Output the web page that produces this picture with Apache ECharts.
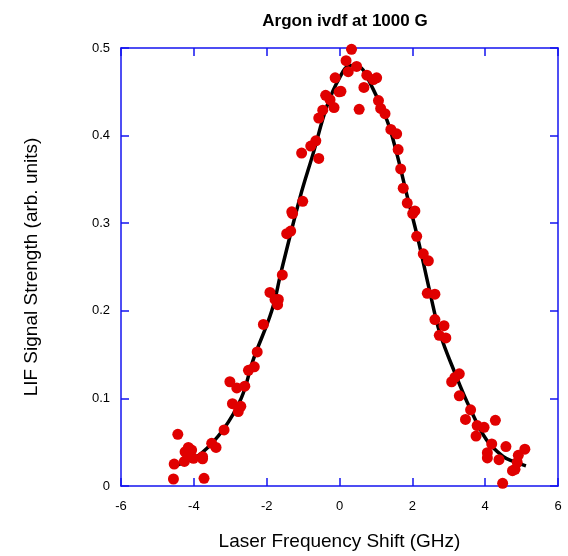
<!DOCTYPE html>
<html><head><meta charset="utf-8">
<script src="https://cdn.jsdelivr.net/npm/echarts@6/dist/echarts.min.js"></script>
<style>html,body{margin:0;padding:0;background:#fff}#c{width:568px;height:556px}</style>
</head><body><div id="c"></div>
<script>
const titleText = "Argon ivdf at 1000 G";
const xName = "Laser Frequency Shift (GHz)";
const yName = "LIF Signal Strength (arb. units)";

const dataX = [-0.12,-0.01,-0.38,-0.26,-0.15,-0.46,-0.57,-0.65,-0.79,-1.04,-0.57,-1.01,-1.31,-1.29,-1.45,-1.34,
  0.33,0.18,0.47,0.24,0.04,0.54,0.75,0.93,1.02,0.67,1.07,1.13,1.25,1.41,1.57,1.61,1.68,1.75,1.86,2.01,2.07,2.12,2.30,2.44,
  2.41,2.62,2.62,2.87,2.74,2.92,3.29,3.17,3.08,3.29,3.60,3.46,3.78,3.97,4.28,3.75,4.18,4.57,4.06,4.06,4.38,5.09,4.91,4.88,4.75,4.82,4.48,
  -1.57,-1.91,-1.77,-1.68,-1.70,-2.09,-2.26,-2.34,-2.50,-3.01,-2.82,-2.60,-2.94,-2.71,-2.78,-3.17,-3.39,-3.51,-3.76,-3.76,
  -4.44,-4.15,-4.24,-4.06,-4.18,-4.01,-4.26,-4.54,-4.56,-3.72];
const dataY = [0.466,0.450,0.446,0.441,0.432,0.429,0.420,0.394,0.388,0.380,0.374,0.325,0.313,0.311,0.288,0.291,
  0.4985,0.4855,0.479,0.473,0.4505,0.430,0.469,0.464,0.466,0.455,0.440,0.431,0.425,0.407,0.402,0.384,0.362,0.340,0.323,0.311,0.314,0.285,0.265,0.257,
  0.220,0.219,0.190,0.183,0.172,0.169,0.128,0.124,0.119,0.103,0.087,0.076,0.069,0.067,0.075,0.057,0.048,0.045,0.038,0.032,0.030,0.042,0.035,0.027,0.0175,0.019,0.003,
  0.241,0.221,0.213,0.213,0.207,0.1845,0.153,0.136,0.132,0.119,0.112,0.114,0.094,0.091,0.085,0.064,0.044,0.0487,0.0335,0.031,
  0.059,0.044,0.039,0.041,0.0365,0.0316,0.028,0.025,0.008,0.0088];

const fitX = [-4.6,-4.2,-3.8,-3.2,-2.7,-2.37,-1.86,-1.6,-1.08,-0.72,-0.35,0,0.3,0.6,0.84,1.3,1.57,1.84,2.16,2.49,2.76,3.17,3.58,4.04,4.5,4.77,5.12];
const fitY = [0.022,0.028,0.037,0.064,0.100,0.144,0.200,0.245,0.330,0.380,0.433,0.466,0.480,0.477,0.460,0.418,0.380,0.334,0.281,0.220,0.174,0.129,0.089,0.0525,0.0335,0.028,0.023];

const xTicks = {min:-6, max:6, interval:2};
const yTicks = {min:0, max:0.5, interval:0.1};

const FONT = "Liberation Sans, Arial, Helvetica, sans-serif";
const BLUE = "#1414f0";
const chart = echarts.init(document.getElementById('c'), null, {renderer:'canvas'});
const axLine = {show:true, onZero:false, lineStyle:{color:BLUE, width:1.5}};
const axTick = {show:true, inside:true, length:8, lineStyle:{color:BLUE, width:1.5}};
chart.setOption({
  animation:false,
  backgroundColor:'#fff',
  title:{text:titleText, left:340, textAlign:'center', top:8,
    textStyle:{fontFamily:FONT, fontSize:17, fontWeight:'bold', color:'#000'}},
  grid:{left:121, right:10, top:48, bottom:70, containLabel:false},
  xAxis:[
    {type:'value', position:'bottom', min:xTicks.min, max:xTicks.max, interval:xTicks.interval,
     axisLine:axLine, axisTick:axTick, splitLine:{show:false},
     axisLabel:{color:'#000', fontFamily:FONT, fontSize:13, margin:14},
     name:xName, nameLocation:'middle', nameGap:46,
     nameTextStyle:{fontFamily:FONT, fontSize:19, color:'#000'}},
    {type:'value', position:'top', min:xTicks.min, max:xTicks.max, interval:xTicks.interval,
     axisLine:axLine, axisTick:axTick, splitLine:{show:false}, axisLabel:{show:false}}
  ],
  yAxis:[
    {type:'value', position:'left', min:yTicks.min, max:yTicks.max, interval:yTicks.interval,
     axisLine:axLine, axisTick:axTick, splitLine:{show:false},
     axisLabel:{color:'#000', fontFamily:FONT, fontSize:13, margin:11},
     name:yName, nameLocation:'middle', nameGap:80,
     nameTextStyle:{fontFamily:FONT, fontSize:19, color:'#000'}},
    {type:'value', position:'right', min:yTicks.min, max:yTicks.max, interval:yTicks.interval,
     axisLine:axLine, axisTick:axTick, splitLine:{show:false}, axisLabel:{show:false}}
  ],
  series:[
    {type:'line', data:fitX.map((x,i)=>[x,fitY[i]]), smooth:0.4, showSymbol:false,
     lineStyle:{color:'#000', width:3.5}, z:2},
    {type:'scatter', data:dataX.map((x,i)=>[x,dataY[i]]), symbol:'circle', symbolSize:11,
     itemStyle:{color:'#e00000', opacity:1}, z:3}
  ]
});
</script></body></html>
